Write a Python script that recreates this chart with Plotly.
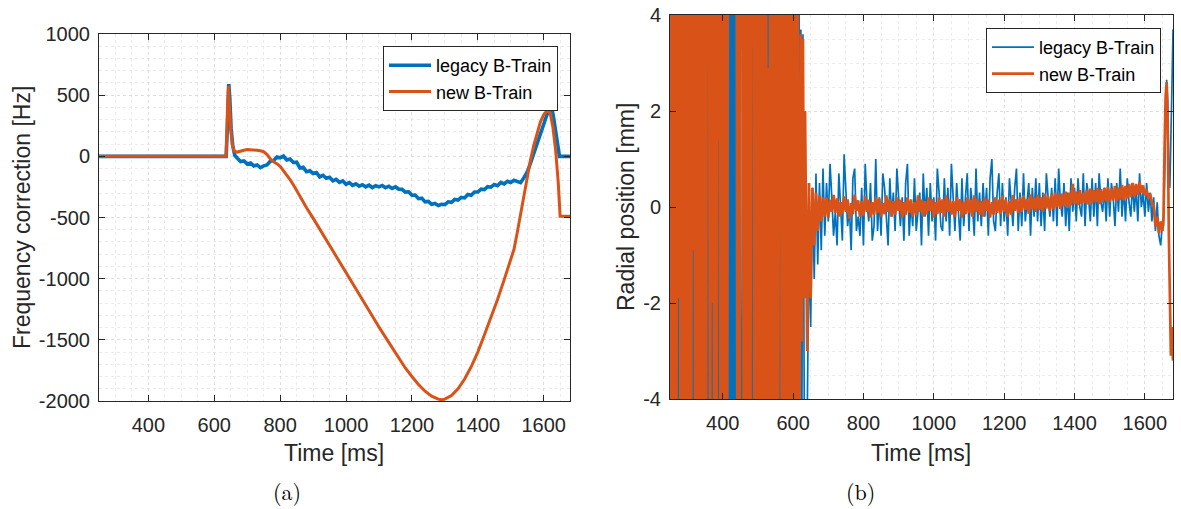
import numpy as np
import plotly.graph_objects as go

W, H = 1181, 509
BLUE = "#0072BD"
ORANGE = "#D95319"
INK = "#262626"
FONT = "Liberation Sans, Arial, Helvetica, sans-serif"

# axis ticks and their printed labels (plain hyphen minus)
time_ticks = [400, 600, 800, 1000, 1200, 1400, 1600]
time_labels = ["400", "600", "800", "1000", "1200", "1400", "1600"]
freq_ticks = [-2000, -1500, -1000, -500, 0, 500, 1000]
freq_labels = ["-2000", "-1500", "-1000", "-500", "0", "500", "1000"]
rad_ticks = [-4, -2, 0, 2, 4]
rad_labels = ["-4", "-2", "0", "2", "4"]

# ---------------- (a) frequency correction ----------------
legacy_t = [250, 636, 640, 644, 647, 651, 656, 662,
            670, 680, 690, 700, 710, 720, 730, 740, 750, 760,
            770, 780, 790, 800, 810, 820, 830, 840, 850, 860,
            870, 880, 890, 900, 910, 920, 930, 940, 950, 960,
            970, 980, 990, 1000, 1010, 1020, 1030, 1040, 1050, 1060,
            1070, 1080, 1090, 1100, 1110, 1120, 1130, 1140, 1150, 1160,
            1170, 1180, 1190, 1200, 1210, 1220, 1230, 1240, 1250, 1260,
            1270, 1280, 1290, 1300, 1310, 1320, 1330, 1340, 1350, 1360,
            1370, 1380, 1390, 1400, 1410, 1420, 1430, 1440, 1450, 1460,
            1470, 1480, 1490, 1500, 1510, 1520, 1530, 1540, 1550, 1560,
            1570, 1580, 1590, 1600, 1610, 1620, 1625, 1630, 1640, 1645,
            1648, 1651, 1680]
legacy_hz = [0, 0, 250, 590, 480, 230, 90, 10,
             -15, -42, -38, -62, -55, -78, -70, -92, -78, -70,
             -40, -35, -5, -12, 2, -30, -22, -50, -48, -95,
             -90, -125, -118, -140, -132, -168, -155, -180, -172, -200,
             -188, -212, -200, -228, -215, -238, -225, -244, -232, -250,
             -236, -255, -240, -250, -238, -256, -244, -262, -250, -268,
             -270, -292, -290, -318, -316, -346, -342, -372, -368, -392,
             -385, -402, -392, -394, -372, -376, -352, -358, -336, -340,
             -312, -318, -292, -292, -268, -272, -248, -252, -230, -240,
             -214, -226, -204, -214, -196, -208, -215, -175, -130, -55,
             25, 110, 190, 260, 340, 380, 392, 320, 160, 85,
             0, 0, 0]

new_t = [250, 636, 640, 643, 646, 650, 655, 660, 670, 680, 690, 700,
         710, 720, 730, 740, 750, 760, 770, 780, 790, 800, 815, 830,
         845, 860, 880, 900, 920, 940, 960, 980, 1000, 1020, 1040, 1060,
         1080, 1100, 1120, 1140, 1160, 1180, 1200, 1220, 1240, 1260, 1280, 1290,
         1300, 1320, 1340, 1360, 1380, 1400, 1420, 1440, 1460, 1480, 1500, 1510,
         1520, 1530, 1540, 1550, 1560, 1570, 1580, 1590, 1600, 1608, 1614, 1620,
         1628, 1636, 1644, 1650, 1680]
new_hz = [0, 0, 380, 575, 420, 220, 90, 45, 35, 45, 50, 55,
          55, 52, 50, 45, 38, 15, -20, -45, -60, -82, -135, -190,
          -255, -327, -420, -505, -595, -685, -775, -865, -955, -1045, -1135, -1225,
          -1310, -1395, -1480, -1565, -1650, -1730, -1800, -1865, -1920, -1960, -1985, -1990,
          -1985, -1955, -1900, -1820, -1720, -1600, -1460, -1320, -1170, -1010, -850, -760,
          -620, -470, -320, -170, -30, 90, 190, 280, 340, 365, 370, 350,
          240, 60, -200, -490, -490]

# ---------------- (b) radial position ----------------
# saturated phase before capture, sampled every 3 ms
sat_t = np.arange(250, 637, 3)
sat_new_mm = [-7, 8, -9, 7, -8, 9, -6, 8, -1.9, 9,
              -8, 10, -7, 8, -9, 7, -8, 9, -10, 8,
              -7, 9, -0.9, 8, -9, 7, -8, 9, -7, 8,
              -9, 10, -7, 8, -9, 9, 8, 7, -8, 9,
              -2.0, 8, -9, 7, -8, 9, 1.4, 7, -9, 8,
              -7, 9, -8, 7, -9, 8, 9, 7, 8, 9,
              8, 7, 9, 8, -9, 8, -7, 9, 8, 7,
              -9, 8, -7, 9, -8, 7, -9, 8, 7, 9,
              -8, 9, -7, 8, -9, 7, -8, 9, -7, 8,
              -9, 7, -8, 2.9, -7, 8, -9, 7, -8, 9,
              -7, 8, -9, 7, 8, 9, -7, 8, -9, 7,
              -8, 9, -7, 8, -9, 7, -8, 9, -7, 8,
              -9, 7, -8, -3.2, 3.6, -2.8, 3.5, -1.9, 2.0]
sat_legacy_mm = [8, -8, 9, -7, 8, -9, 7, -8, 9, -9,
                 8, -7, 9, -8, 7, -9, 8, -7, 9, -8,
                 7, -9, 8, -7, 9, -8, 7, -9, 8, -7,
                 9, -8, 7, -9, 8, -8, 9, -7, 8, -9,
                 7, -8, 9, -7, 8, -9, 7, -8, 9, -7,
                 8, -9, 7, -8, 9, -7, 8, -9, 7, -8,
                 9, -7, 8, -9, 7, -8, 9, -2.2, -8, -2.2,
                 7, -9, 8, -7, 9, -8, 7, -9, 8, -7,
                 9, -8, 7, -9, 8, -7, 9, -8, 7, -9,
                 8, -7, 9, -8, 7, -9, 8, -7, 9, -8,
                 7, -9, 8, -7, 9, -8, 7, -9, 8, -7,
                 9, -8, 7, -9, 8, -7, 9, -8, 7, -9,
                 8, -7, 9, -3.5, 3.7, -4.5, 3.6, -3.0, -8]

# captured beam, sampled every 5 ms
beam_t = np.arange(640, 1651, 5)
beam_legacy_mm = [-4.5, -0.8, -2.5, 0.4, -1.5, 0.7, -1.2, 0.5, -0.9, 0.8, -0.6,
                  0.5, -0.3, 0.9, 0.2, -0.6, -0.1, -0.8, 0.7, 0.1, -0.7,
                  1.1, 0.3, -0.4, 0.0, -0.9, 0.6, 0.8, -0.5, -0.2, -0.6,
                  0.4, -0.8, 0.9, 0.1, -0.3, 0.5, -0.7, -0.4, 1.0, -0.5,
                  0.2, -0.6, 0.7, 0.4, -0.3, -0.8, 0.6, -0.2, 0.3, -0.5,
                  0.8, 0.1, -0.4, 0.2, -0.7, 0.5, 0.9, -0.6, 0.1, -0.4,
                  0.6, -0.5, -0.1, 0.3, -0.8, 0.7, -0.2, 0.4, -0.6, 0.5,
                  -0.3, 0.2, -0.7, 0.8, 0.3, -0.4, -0.5, 0.6, -0.3, 0.4,
                  -0.6, 0.9, 0.2, -0.5, 0.5, -0.1, -0.7, 0.6, -0.4, 0.2,
                  0.7, -0.5, 0.4, 0.0, -0.6, 0.8, -0.3, 0.3, -0.4, 0.5,
                  -0.2, 0.4, -0.6, 0.6, 1.0, -0.3, -0.5, 0.3, 0.7, -0.4,
                  0.5, -0.3, 0.2, -0.6, 0.6, 0.1, -0.4, 0.4, 0.8, -0.5,
                  0.3, -0.4, 0.7, -0.3, 0.1, 0.5, -0.6, 0.4, -0.2, 0.6,
                  -0.3, 0.5, -0.4, 0.3, -0.5, 0.7, 0.2, -0.2, 0.4, -0.3,
                  0.6, -0.4, 0.8, 0.1, -0.2, 0.5, -0.4, 0.3, -0.5, 0.6,
                  -0.1, 0.4, -0.3, 0.6, 0.0, -0.2, 0.7, -0.4, 0.5, 0.2,
                  -0.3, 0.6, -0.2, 0.5, -0.4, 0.7, 0.1, -0.1, 0.4, -0.3,
                  0.6, -0.2, 0.5, 0.2, -0.4, 0.5, -0.1, 0.8, -0.2, 0.4,
                  -0.3, 0.6, 0.1, -0.2, 0.5, -0.1, 0.4, -0.3, 0.7, 0.0,
                  0.3, -0.2, 0.5, -0.1, 0.3, -0.3, 0.2, -0.5, 0.1, -0.6,
                  -0.8, -0.3]
beam_new_mm = [-3.0, 0.5, -1.9, 0.4, -0.8, 0.3, -0.5, 0.25, -0.3, 0.2, -0.2,
               0.2, -0.22, 0.15, -0.1, 0.25, -0.12, 0.18, -0.2, 0.1, -0.15,
               0.22, -0.1, 0.16, -0.24, 0.08, -0.15, 0.26, -0.08, 0.14, -0.2,
               0.12, -0.18, 0.22, -0.1, 0.15, -0.22, 0.1, -0.16, 0.2, -0.12,
               0.18, -0.2, 0.08, -0.15, 0.24, -0.1, 0.16, -0.2, 0.12, -0.16,
               0.2, -0.08, 0.15, -0.22, 0.1, -0.16, 0.2, -0.12, 0.16, -0.2,
               0.1, -0.16, 0.24, -0.1, 0.15, -0.2, 0.12, -0.15, 0.2, -0.08,
               0.16, -0.22, 0.1, -0.15, 0.2, -0.12, 0.16, -0.2, 0.24, -0.1,
               0.15, -0.16, 0.12, -0.2, 0.2, -0.08, 0.16, -0.22, 0.1, -0.15,
               0.2, -0.12, 0.15, -0.2, 0.24, -0.1, 0.16, -0.16, 0.12, -0.2,
               0.2, -0.08, 0.15, -0.22, 0.1, -0.16, 0.2, -0.12, 0.15, -0.15,
               0.24, -0.1, 0.15, -0.2, 0.12, -0.16, 0.25, -0.08, 0.16, -0.12,
               0.2, -0.1, 0.24, -0.06, 0.16, -0.14, 0.26, -0.05, 0.2, -0.1,
               0.25, -0.06, 0.2, -0.1, 0.28, -0.03, 0.22, -0.08, 0.26, -0.05,
               0.3, 0.0, 0.26, -0.04, 0.28, 0.02, 0.32, -0.02, 0.3, 0.04,
               0.48, 0.06, 0.32, 0.04, 0.35, 0.06, 0.3, 0.08, 0.36, 0.05,
               0.38, 0.08, 0.35, 0.1, 0.4, 0.06, 0.37, 0.1, 0.4, 0.12,
               0.42, 0.1, 0.38, 0.14, 0.44, 0.12, 0.4, 0.15, 0.46, 0.14,
               0.44, 0.18, 0.48, 0.2, 0.5, 0.22, 0.48, 0.25, 0.52, 0.3,
               0.45, 0.24, 0.36, 0.18, 0.28, 0.08, 0.05, -0.4, -0.2, -0.55,
               -0.3, -0.5]

# extraction at the end of the cycle
end_t = [1653, 1656, 1659, 1662, 1665, 1668, 1671, 1674, 1677, 1680]
end_new_mm = [-0.2, 1.2, 2.3, 2.6, 1.8, -0.5, -2.0, -3.1, -2.5, -3.2]
end_legacy_mm = [-0.4, 0.8, 2.0, 2.65, 2.2, 0.6, 0.4, 1.2, 2.5, 3.7]

rad_t = list(sat_t) + list(beam_t) + end_t
rad_legacy = sat_legacy_mm + beam_legacy_mm + end_legacy_mm
rad_new = sat_new_mm + beam_new_mm + end_new_mm

SERIES = ["legacy B-Train", "new B-Train"]

fig = go.Figure()

fig.add_trace(go.Scatter(x=legacy_t, y=legacy_hz, mode="lines", name=SERIES[0],
                         line=dict(color=BLUE, width=3.6), xaxis="x", yaxis="y",
                         legend="legend"))
fig.add_trace(go.Scatter(x=new_t, y=new_hz, mode="lines", name=SERIES[1],
                         line=dict(color=ORANGE, width=3), xaxis="x", yaxis="y",
                         legend="legend"))
fig.add_trace(go.Scatter(x=rad_t, y=rad_legacy, mode="lines", name=SERIES[0],
                         line=dict(color=BLUE, width=1.7), xaxis="x2", yaxis="y2",
                         legend="legend2"))
fig.add_trace(go.Scatter(x=rad_t, y=rad_new, mode="lines", name=SERIES[1],
                         line=dict(color=ORANGE, width=2.7), xaxis="x2", yaxis="y2",
                         legend="legend2"))


def px(x):
    return x / W


def py(y):
    return 1 - y / H


def axis_style(**kw):
    base = dict(
        showline=True, linecolor=INK, linewidth=1, mirror="ticks",
        ticks="inside", ticklen=6, tickwidth=1, tickcolor=INK,
        showgrid=True, gridcolor="#dedede", griddash="dot", gridwidth=1,
        zeroline=False, automargin=False, tickmode="array",
        tickfont=dict(family=FONT, size=20, color=INK),
    )
    base.update(kw)
    return base


minor = dict(showgrid=True, gridcolor="#ebebeb", griddash="dot", gridwidth=1, ticks="")
legend_common = dict(xanchor="right", yanchor="top", bgcolor="white",
                     bordercolor=INK, borderwidth=1, itemwidth=42, tracegroupgap=0,
                     font=dict(family=FONT, size=18, color="black"))

fig.update_layout(
    width=W, height=H,
    margin=dict(l=0, r=0, t=0, b=0),
    paper_bgcolor="white", plot_bgcolor="white",
    xaxis=axis_style(domain=[px(99), px(570)], range=[250, 1680],
                     tickvals=time_ticks, ticktext=time_labels,
                     minor=dict(dtick=50, tick0=0, **minor), anchor="y", ticklabelstandoff=6),
    yaxis=axis_style(domain=[py(401), py(34)], range=[-2000, 1000],
                     tickvals=freq_ticks, ticktext=freq_labels,
                     minor=dict(dtick=100, tick0=0, **minor), anchor="x", ticklabelstandoff=4),
    xaxis2=axis_style(domain=[px(670), px(1173)], range=[250, 1680],
                      tickvals=time_ticks, ticktext=time_labels,
                      minor=dict(dtick=50, tick0=0, **minor), anchor="y2", ticklabelstandoff=6),
    yaxis2=axis_style(domain=[py(399), py(15)], range=[-4, 4],
                      tickvals=rad_ticks, ticktext=rad_labels,
                      minor=dict(dtick=0.5, tick0=0, **minor), anchor="x2", ticklabelstandoff=4),
    legend=dict(x=px(558), y=py(46), **legend_common),
    legend2=dict(x=px(1161), y=py(28), **legend_common),
    showlegend=True,
)

title_font = dict(family=FONT, size=23, color=INK)
cap_font = dict(family="Latin Modern Roman, DejaVu Serif, Liberation Serif, serif", size=22, color="black")
annotations = [
    dict(text="Time [ms]", x=px(334), y=py(453), font=title_font),
    dict(text="Time [ms]", x=px(921), y=py(453), font=title_font),
    dict(text="Frequency correction [Hz]", x=px(22), y=py(218), textangle=-90, font=title_font),
    dict(text="Radial position [mm]", x=px(626), y=py(207), textangle=-90, font=title_font),
    dict(text="(a)", x=px(287), y=py(490), font=cap_font),
    dict(text="(b)", x=px(860), y=py(490), font=cap_font),
]
for a in annotations:
    a.update(xref="paper", yref="paper", showarrow=False, xanchor="center", yanchor="middle")
fig.update_layout(annotations=annotations)

fig.write_html("out.html")
